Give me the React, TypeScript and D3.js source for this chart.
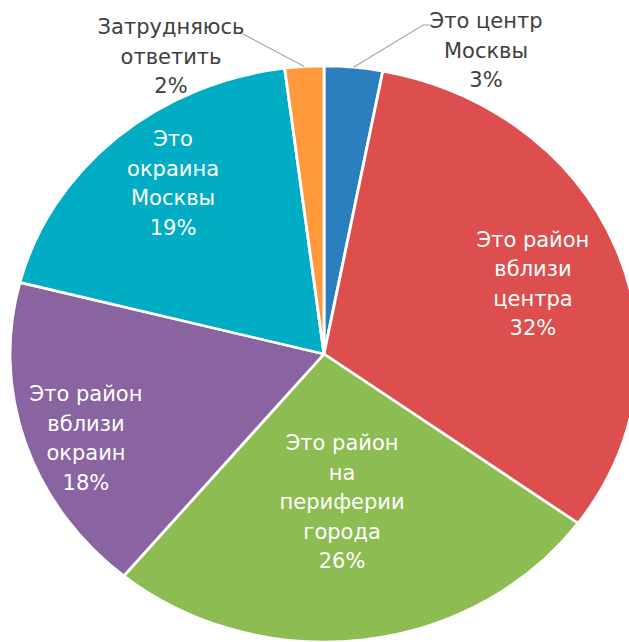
import React from "react";
import * as d3 from "d3";

const categories = [
  ["Это центр", "Москвы"],
  ["Это район", "вблизи", "центра"],
  ["Это район", "на", "периферии", "города"],
  ["Это район", "вблизи", "окраин"],
  ["Это", "окраина", "Москвы"],
  ["Затрудняюсь", "ответить"],
];
const values = [3, 32, 26, 18, 19, 2];
const colors = ["#2C7FBE", "#DC4F4E", "#8DBC52", "#8A63A1", "#00ADC5", "#FF9A3C"];

// layout (not data)
const W = 629, H = 642;
const CX = 324, CY = 354, RY = 288, RX = 314;
const SX = RX / RY;
const LINE_H = 29.5;
// inside labels: radius fraction + angle offset (deg); outside labels: explicit block position
const labelLayout: any[] = [
  { outside: true, x: 486, y: 28, anchorFrac: 1.0, elbow: [423, 25], end: [430, 25] },
  { r: 0.709, da: 1.4 },
  { r: 0.517, da: 0.8 },
  { r: 0.812, da: -3.0 },
  { r: 0.764, da: 2.4 },
  { outside: true, x: 171, y: 34, anchorFrac: 1.0, elbow: null, end: [243, 34] },
];

export default function App() {
  const pie = d3.pie<number>().sort(null).value((d) => d);
  const arcs = pie(values);
  const arc = d3.arc<d3.PieArcDatum<number>>().innerRadius(0).outerRadius(RY);
  const font = "'DejaVu Sans', Verdana, sans-serif";

  const toScreen = (angle: number, r: number) => [
    CX + Math.sin(angle) * r * SX,
    CY - Math.cos(angle) * r,
  ];

  return (
    <svg
      width={W}
      height={H}
      style={{ position: "absolute", left: 0, top: 0, background: "#fff" }}
    >
      <g transform={`translate(${CX},${CY}) scale(${SX},1)`}>
        {arcs.map((a, i) => (
          <path
            key={i}
            d={arc(a) as string}
            fill={colors[i]}
            stroke="#fff"
            strokeWidth={2.6}
            strokeLinejoin="round"
          />
        ))}
      </g>
      {arcs.map((a, i) => {
        const lay = labelLayout[i];
        const lines = [...categories[i], `${values[i]}%`];
        const mid = (a.startAngle + a.endAngle) / 2;
        if (lay.outside) {
          const [ax, ay] = toScreen(mid, RY * lay.anchorFrac);
          const pts: number[][] = [[ax, ay]];
          if (lay.elbow) pts.push(lay.elbow);
          pts.push(lay.end);
          return (
            <g key={i}>
              <polyline
                points={pts.map((p) => p.join(",")).join(" ")}
                fill="none"
                stroke="#A6A6A6"
                strokeWidth={1.2}
              />
              <text
                x={lay.x}
                y={lay.y}
                textAnchor="middle"
                fontFamily={font}
                fontSize={21}
                fill="#404040"
              >
                {lines.map((l, j) => (
                  <tspan key={j} x={lay.x} y={lay.y + j * LINE_H}>
                    {l}
                  </tspan>
                ))}
              </text>
            </g>
          );
        }
        const ang = mid + (lay.da * Math.PI) / 180;
        const [lx, ly] = toScreen(ang, RY * lay.r);
        const top = ly - ((lines.length - 1) * LINE_H) / 2 + 7.5;
        return (
          <text
            key={i}
            textAnchor="middle"
            fontFamily={font}
            fontSize={21}
            fill="#fff"
          >
            {lines.map((l, j) => (
              <tspan key={j} x={lx} y={top + j * LINE_H}>
                {l}
              </tspan>
            ))}
          </text>
        );
      })}
    </svg>
  );
}
